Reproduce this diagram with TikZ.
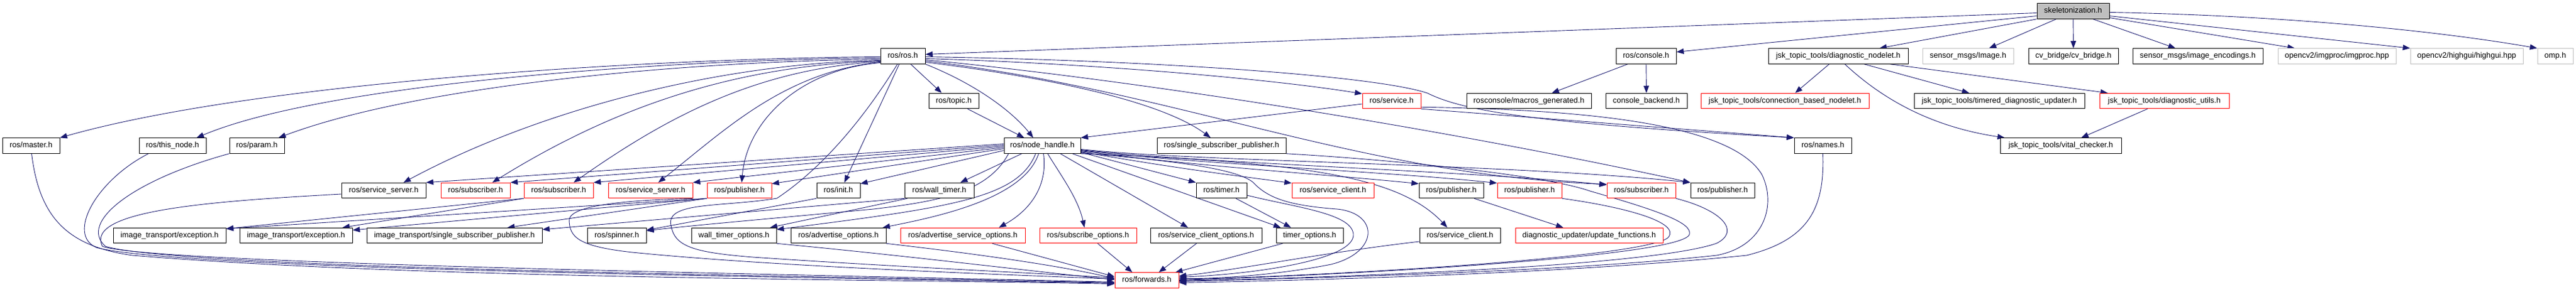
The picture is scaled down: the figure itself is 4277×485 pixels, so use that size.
\documentclass[tikz,border=0pt]{standalone}
\usepackage{fontspec}
\setmainfont{Liberation Sans}
\usetikzlibrary{arrows.meta,calc}
\definecolor{edgec}{HTML}{191970}
\definecolor{grayb}{HTML}{BFBFBF}
\definecolor{redb}{HTML}{FF0000}
\pgfdeclarelayer{bg}
\pgfdeclarelayer{edges}
\pgfsetlayers{bg,edges,main}
\begin{document}
\begin{tikzpicture}[x=1pt,y=-1pt,
  bx/.style={draw, fill=white, line width=1pt, minimum height=25.5pt, inner sep=0pt,
    text height=9.3pt, text depth=2.6pt, font=\fontsize{12.9}{15}\selectfont},
  nb/.style={bx},
  nr/.style={bx, draw=redb},
  ng/.style={bx, draw=grayb},
  edg/.style={draw=edgec, line width=0.9pt, -{Triangle[length=12pt,width=9pt]}}]
\begin{pgfonlayer}{bg}
\fill[white] (0,0) rectangle (4277,485);
\end{pgfonlayer}
\useasboundingbox (0,0) rectangle (4277,485);
% row 0
\node[nb, fill=grayb, minimum width=120pt] (S) at (3442,18.5) {skeletonization.h};
% row 1
\node[nb, minimum width=74pt] (ros) at (1499,93.5) {ros/ros.h};
\node[nb, minimum width=100pt] (console) at (2733,93.5) {ros/console.h};
\node[nb, minimum width=232pt] (dnodelet) at (3052,93.5) {jsk\_topic\_tools/diagnostic\_nodelet.h};
\node[ng, minimum width=151pt] (image) at (3267.5,93.5) {sensor\_msgs/Image.h};
\node[nb, minimum width=149pt] (cvb) at (3442.5,93.5) {cv\_bridge/cv\_bridge.h};
\node[nb, minimum width=216pt] (enc) at (3649,93.5) {sensor\_msgs/image\_encodings.h};
\node[ng, minimum width=196pt] (imgproc) at (3880,93.5) {opencv2/imgproc/imgproc.hpp};
\node[ng, minimum width=187pt] (highgui) at (4095.5,93.5) {opencv2/highgui/highgui.hpp};
\node[ng, minimum width=59pt] (omp) at (4242.5,93.5) {omp.h};
% row 2
\node[nb, minimum width=83pt] (topic) at (1583.5,168) {ros/topic.h};
\node[nr, minimum width=97pt] (service) at (2310.5,168) {ros/service.h};
\node[nb, minimum width=207pt] (macros) at (2538.5,168) {rosconsole/macros\_generated.h};
\node[nb, minimum width=135pt] (backend) at (2733.5,168) {console\_backend.h};
\node[nr, minimum width=279pt] (cbn) at (2963.5,168) {jsk\_topic\_tools/connection\_based\_nodelet.h};
\node[nb, minimum width=283pt] (tdu) at (3319.5,168) {jsk\_topic\_tools/timered\_diagnostic\_updater.h};
\node[nr, minimum width=215pt] (dutils) at (3593.5,168) {jsk\_topic\_tools/diagnostic\_utils.h};
% row 3
\node[nb, minimum width=95pt] (master) at (51.5,242.5) {ros/master.h};
\node[nb, minimum width=111pt] (thisnode) at (286.5,242.5) {ros/this\_node.h};
\node[nb, minimum width=91pt] (param) at (426.5,242.5) {ros/param.h};
\node[nb, minimum width=127pt] (nh) at (1730.5,242.5) {ros/node\_handle.h};
\node[nb, minimum width=214pt] (ssp) at (2028,242.5) {ros/single\_subscriber\_publisher.h};
\node[nb, minimum width=95pt] (names) at (3026.5,242.5) {ros/names.h};
\node[nb, minimum width=201pt] (vital) at (3421.5,242.5) {jsk\_topic\_tools/vital\_checker.h};
% row 4
\node[nb, minimum width=140pt] (ssb) at (637,317) {ros/service\_server.h};
\node[nr, minimum width=115pt] (sub1) at (789.5,317) {ros/subscriber.h};
\node[nr, minimum width=115pt] (sub2) at (927.5,317) {ros/subscriber.h};
\node[nr, minimum width=140pt] (ssr) at (1080,317) {ros/service\_server.h};
\node[nr, minimum width=107pt] (pub1) at (1227.5,317) {ros/publisher.h};
\node[nb, minimum width=72pt] (init) at (1392,317) {ros/init.h};
\node[nb, minimum width=115pt] (wt) at (1559.5,317) {ros/wall\_timer.h};
\node[nb, minimum width=84pt] (timer) at (2028,317) {ros/timer.h};
\node[nr, minimum width=136pt] (scr) at (2213,317) {ros/service\_client.h};
\node[nb, minimum width=107pt] (pubb1) at (2409.5,317) {ros/publisher.h};
\node[nr, minimum width=107pt] (pub2) at (2539.5,317) {ros/publisher.h};
\node[nr, minimum width=114pt] (sub3) at (2725,317) {ros/subscriber.h};
\node[nb, minimum width=106pt] (pubb2) at (2860,317) {ros/publisher.h};
% row 5
\node[nb, minimum width=187pt] (exc1) at (281.5,392) {image\_transport/exception.h};
\node[nb, minimum width=187pt] (exc2) at (491.5,392) {image\_transport/exception.h};
\node[nb, minimum width=291pt] (itssp) at (754.5,392) {image\_transport/single\_subscriber\_publisher.h};
\node[nb, minimum width=98pt] (spinner) at (1024,392) {ros/spinner.h};
\node[nb, minimum width=141pt] (wto) at (1218.5,392) {wall\_timer\_options.h};
\node[nb, minimum width=158pt] (ao) at (1392,392) {ros/advertise\_options.h};
\node[nr, minimum width=207pt] (aso) at (1598.5,392) {ros/advertise\_service\_options.h};
\node[nr, minimum width=161pt] (sbo) at (1806.5,392) {ros/subscribe\_options.h};
\node[nb, minimum width=185pt] (sco) at (2002.5,392) {ros/service\_client\_options.h};
\node[nb, minimum width=111pt] (tmo) at (2174.5,392) {timer\_options.h};
\node[nb, minimum width=134pt] (scb) at (2424,392) {ros/service\_client.h};
\node[nr, minimum width=245pt] (uf) at (2638.5,392) {diagnostic\_updater/update\_functions.h};
% row 6
\node[nr, minimum width=106pt] (fwd) at (1904,466.5) {ros/forwards.h};

\begin{pgfonlayer}{edges}
% skeletonization.h
\draw[edg] ($(S.west)+(0,3)$) -- ($(ros.east)+(0,-3)$);
\draw[edg] ($(S.west)+(0,8)$) -- ($(console.east)+(0,-7)$);
\draw[edg] (S.south west) -- ($(dnodelet.north east)+(-48,0)$);
\draw[edg] ($(S.south)+(-28,0)$) -- ($(image.north)+(35,0)$);
\draw[edg] (S.south) -- (cvb.north);
\draw[edg] ($(S.south)+(33,0)$) -- ($(enc.north)+(-37,0)$);
\draw[edg] ($(S.east)+(0,11)$) -- ($(imgproc.north)+(-70,0)$);
\draw[edg] ($(S.east)+(0,8)$) -- (highgui.north west);
\draw[edg] ($(S.east)+(0,2)$) .. controls (3800,26) and (4050,52) .. (omp.north west);
% ros/ros.h
\draw[edg] ($(ros.west)+(0,1)$) .. controls (1150,96) and (450,130) .. (master.north east);
\draw[edg] ($(ros.west)+(0,3)$) .. controls (1150,98) and (550,135) .. ($(thisnode.north)+(40,0)$);
\draw[edg] ($(ros.west)+(0,5)$) .. controls (1150,102) and (700,140) .. ($(param.north)+(36,0)$);
\draw[edg] ($(ros.west)+(0,7)$) .. controls (1200,105) and (900,180) .. ($(ssb.north)+(33,0)$);
\draw[edg] ($(ros.west)+(0,8)$) .. controls (1200,110) and (1000,190) .. ($(sub1.north)+(28,0)$);
\draw[edg] ($(ros.west)+(0,9)$) .. controls (1250,115) and (1100,200) .. ($(sub2.north)+(25,0)$);
\draw[edg] ($(ros.west)+(0,10)$) .. controls (1300,120) and (1200,220) .. ($(ssr.north)+(13,0)$);
\draw[edg] ($(ros.west)+(0,11)$) .. controls (1330,115) and (1240,200) .. ($(pub1.north)+(4,0)$);
\draw[edg] ($(ros.south)+(-6,0)$) -- ($(init.north)+(10,0)$);
\draw[edg] ($(ros.south)+(13,0)$) -- ($(topic.north)+(-20,0)$);
\draw[edg] (ros.south east) .. controls (1620,140) and (1680,185) .. ($(nh.north)+(-15,0)$);
\draw[edg] ($(ros.east)+(0,10)$) .. controls (1750,130) and (1930,170) .. ($(ssp.north)+(-18,0)$);
\draw[edg] ($(ros.east)+(0,4)$) .. controls (1800,105) and (2100,130) .. ($(service.west)+(0,-12)$);
\draw[edg] ($(ros.east)+(0,1)$) .. controls (1900,100) and (2280,125) .. (2370,155) .. controls (2430,185) and (2550,205) .. (names.north west);
\draw[edg] ($(ros.east)+(0,6)$) .. controls (1900,135) and (2400,215) .. (pubb2.north west);
\draw[edg] ($(ros.east)+(0,8)$) .. controls (1950,150) and (2250,290) .. ($(sub3.north west)+(0,3)$);
\draw[edg] ($(ros.south)+(-9,0)$) .. controls (1420,220) and (1350,290) .. (1290,330) .. controls (1200,345) and (1105,335) .. (1114,375) .. controls (1120,410) and (1150,420) .. (1250,428) .. controls (1500,445) and (1750,456) .. ($(fwd.west)+(0,-4)$);
% ros/topic.h
\draw[edg] ($(topic.south)+(23,0)$) -- ($(nh.north)+(-30,0)$);
% left loops to forwards
\draw[edg] ($(master.south)+(1,0)$) .. controls (65,360) and (110,410) .. (220,425) .. controls (700,465) and (1500,465) .. ($(fwd.west)+(0,6)$);
\draw[edg] ($(thisnode.south west)+(16,0)$) .. controls (160,300) and (110,390) .. (160,412) .. controls (300,450) and (1400,462) .. ($(fwd.west)+(0,5)$);
\draw[edg] (param.south west) .. controls (220,300) and (130,370) .. (175,410) .. controls (300,448) and (1400,460) .. ($(fwd.west)+(0,4)$);
\draw[edg] ($(ssb.west)+(0,6)$) .. controls (350,335) and (140,350) .. (170,410) .. controls (250,440) and (1400,458) .. ($(fwd.west)+(0,3)$);
\draw[edg] (ssr.south east) .. controls (1050,333) and (950,340) .. (945,365) .. controls (945,395) and (960,410) .. (1050,420) .. controls (1300,445) and (1700,458) .. ($(fwd.west)+(0,-2)$);
% node_handle.h left
\draw[edg] ($(nh.west)+(0,-3)$) -- (ssb.north east);
\draw[edg] ($(nh.west)+(0,-1)$) -- (sub1.north east);
\draw[edg] ($(nh.west)+(0,1)$) -- (sub2.north east);
\draw[edg] ($(nh.west)+(0,3)$) -- (ssr.north east);
\draw[edg] ($(nh.west)+(0,5)$) -- ($(pub1.north east)+(0,2)$);
\draw[edg] ($(nh.west)+(0,8)$) -- ($(init.north east)+(0,2)$);
\draw[edg] ($(nh.south west)+(30,0)$) -- ($(wt.north)+(35,0)$);
\draw[edg] ($(nh.south west)+(8,0)$) .. controls (1640,320) and (1560,335) .. (1450,348) .. controls (1300,362) and (1150,375) .. ($(spinner.east)+(0,-8)$);
\draw[edg] ($(nh.south west)+(53,0)$) .. controls (1690,330) and (1580,345) .. ($(wto.east)+(0,-10)$);
\draw[edg] ($(nh.south west)+(58,0)$) .. controls (1700,330) and (1560,360) .. ($(ao.north east)+(-6,0)$);
\draw[edg] ($(nh.south west)+(66,0)$) .. controls (1740,310) and (1710,350) .. ($(aso.north)+(60,0)$);
\draw[edg] ($(nh.south west)+(73,0)$) .. controls (1760,290) and (1790,330) .. ($(sbo.north)+(-6,0)$);
% node_handle.h right
\draw[edg] ($(nh.east)+(0,6)$) .. controls (2000,270) and (2500,272) .. (pubb2.north west);
\draw[edg] ($(nh.east)+(0,7)$) .. controls (2000,272) and (2450,285) .. ($(sub3.north west)+(0,4)$);
\draw[edg] ($(nh.east)+(0,8)$) .. controls (2000,274) and (2300,285) .. ($(pub2.north west)+(0,1)$);
\draw[edg] ($(nh.east)+(0,9)$) .. controls (2000,278) and (2200,290) .. ($(pubb1.north west)+(0,2)$);
\draw[edg] ($(nh.east)+(0,10)$) .. controls (1950,280) and (2050,292) .. ($(scr.north west)+(0,1)$);
\draw[edg] ($(nh.east)+(0,11)$) -- (timer.north west);
\draw[edg] ($(nh.east)+(0,12)$) .. controls (1950,268) and (2050,280) .. (2080,303) .. controls (2105,330) and (2140,342) .. (2220,348) .. controls (2290,355) and (2290,420) .. (2210,440) .. controls (2120,458) and (2020,464) .. ($(fwd.east)+(0,-3)$);
\draw[edg] (nh.south east) .. controls (2150,270) and (2320,290) .. ($(scb.north)+(-21,0)$);
\draw[edg] ($(nh.south east)+(-14,0)$) -- ($(tmo.north west)+(8,0)$);
\draw[edg] ($(nh.south)+(30,0)$) -- ($(sco.north)+(-30,0)$);
% timer
\draw[edg] ($(timer.south)+(24,0)$) -- ($(tmo.north)+(-31,0)$);
\draw[edg] ($(timer.east)+(0,8)$) .. controls (2150,345) and (2245,355) .. (2247,390) .. controls (2250,430) and (2100,455) .. ($(fwd.east)+(0,-5)$);
% row 5 to forwards
\draw[edg] ($(sco.south)+(-16,0)$) -- ($(fwd.north)+(20,0)$);
\draw[edg] ($(tmo.south west)+(11,0)$) -- ($(fwd.north east)+(-6,0)$);
\draw[edg] ($(scb.west)+(0,10)$) .. controls (2200,420) and (2050,450) .. ($(fwd.east)+(0,-7)$);
\draw[edg] ($(sbo.south)+(16,0)$) -- ($(fwd.north)+(-24,0)$);
\draw[edg] ($(aso.south)+(49,0)$) -- ($(fwd.west)+(0,-6)$);
\draw[edg] (ao.south east) .. controls (1600,420) and (1750,440) .. ($(fwd.west)+(0,-3)$);
\draw[edg] (wto.south east) .. controls (1500,425) and (1700,450) .. ($(fwd.west)+(0,-1)$);
% others in row 4
\draw[edg] ($(wt.south west)+(5,0)$) -- ($(wto.north east)+(-11,0)$);
\draw[edg] (wt.south west) -- ($(itssp.east)+(0,-10)$);
\draw[edg] (init.south west) -- ($(spinner.east)+(0,-9)$);
\draw[edg] (sub2.south west) -- ($(exc1.north east)+(0,2)$);
\draw[edg] (pub1.south west) -- ($(exc1.north east)+(0,2)$);
\draw[edg] (sub2.south west) -- ($(exc2.north east)+(-17,0)$);
\draw[edg] (pub1.south west) -- ($(exc2.east)+(0,-9)$);
\draw[edg] (pub1.south west) -- ($(itssp.north)+(88,0)$);
\draw[edg] ($(pubb1.south)+(38,0)$) -- ($(uf.north)+(-43,0)$);
% ros/service.h
\draw[edg] ($(service.west)+(0,5)$) -- (nh.north east);
\draw[edg] (service.south east) -- (names.north west);
\draw[edg] ($(service.south east)+(0,-3)$) .. controls (2600,182) and (2870,200) .. (2925,290) .. controls (2950,340) and (2930,410) .. (2850,425) .. controls (2600,452) and (2200,462) .. ($(fwd.east)+(0,2)$);
% names, subscriber, publisher, single_subscriber_publisher loops
\draw[edg] (names.south) .. controls (3030,350) and (3000,400) .. (2900,425) .. controls (2600,455) and (2200,466) .. ($(fwd.east)+(0,4)$);
\draw[edg] (sub3.south east) .. controls (2860,350) and (2890,385) .. (2850,405) .. controls (2750,440) and (2300,460) .. ($(fwd.east)+(0,1)$);
\draw[edg] (pub2.south east) .. controls (2700,345) and (2790,370) .. (2770,395) .. controls (2740,425) and (2300,455) .. ($(fwd.east)+(0,-1)$);
\draw[edg] (ssp.south east) .. controls (2300,265) and (2560,290) .. (2640,318) .. controls (2750,350) and (2810,370) .. (2805,390) .. controls (2795,425) and (2300,455) .. ($(fwd.east)+(0,0)$);
% jsk diagnostic nodelet
\draw[edg] ($(dnodelet.south)+(-15,0)$) -- ($(cbn.north)+(17,0)$);
\draw[edg] ($(dnodelet.south)+(43,0)$) -- ($(tdu.north)+(-50,0)$);
\draw[edg] ($(dnodelet.south)+(86,0)$) -- ($(dutils.north west)+(14,0)$);
\draw[edg] ($(dnodelet.south)+(11,0)$) .. controls (3120,160) and (3200,210) .. ($(vital.north west)+(8,0)$);
\draw[edg] ($(dutils.south)+(-28,0)$) -- ($(vital.north)+(34,0)$);
% console
\draw[edg] ($(console.south west)+(20,0)$) -- ($(macros.north)+(38,0)$);
\draw[edg] (console.south) -- (backend.north);
\end{pgfonlayer}
\end{tikzpicture}
\end{document}
